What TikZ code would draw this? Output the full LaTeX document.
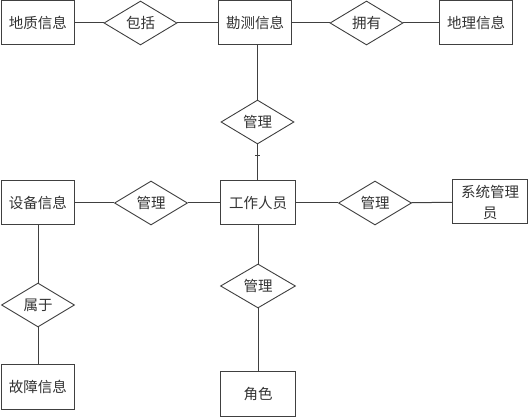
\documentclass[tikz,border=0pt]{standalone}
\usepackage{fontspec}
\newfontfamily\cjk{Noto Sans CJK SC}
\usetikzlibrary{shapes.geometric}
\definecolor{ln}{HTML}{404040}
\definecolor{tx}{HTML}{333333}
\tikzset{
  ent/.style={draw=ln, line width=1pt, minimum width=73pt, minimum height=44pt, inner sep=0pt, font=\cjk\fontsize{14.5}{21}\selectfont, text=tx, align=center},
  rel/.style={draw=ln, line width=0.9pt, diamond, minimum width=73pt, minimum height=44pt, inner sep=0pt, font=\cjk\fontsize{14.5}{21}\selectfont, text=tx},
  conn/.style={draw=ln, line width=1pt}
}
\begin{document}
\begin{tikzpicture}[x=1pt,y=1pt]
\useasboundingbox (0,0) rectangle (530,419);
\fill[white] (0,0) rectangle (530,419);
% top row
\node[ent] (dz) at (38,396) {地质信息};
\node[rel] (bk) at (140.5,396) {包括};
\node[ent] (kc) at (255,396) {勘测信息};
\node[rel] (yy) at (366.5,396) {拥有};
\node[ent] (dl) at (476,396) {地理信息};
% middle
\node[rel] (gla) at (257.5,297) {管理};
\node[ent] (sb) at (38,216) {设备信息};
\node[rel] (glb) at (151,216) {管理};
\node[ent, minimum width=75pt] (gz) at (258,216) {工作人员};
\node[rel] (glc) at (375,216) {管理};
\node[ent, minimum width=75pt] (xt) at (490,217) {系统管理\\员};
% bottom
\node[rel] (sy) at (38,114) {属于};
\node[ent, minimum height=45pt] (gzxx) at (38,32) {故障信息};
\node[rel, minimum width=75pt] (gld) at (258,133) {管理};
\node[ent, minimum width=75pt, minimum height=45pt] (js) at (258,25) {角色};
% connectors
\draw[conn] (dz) -- (bk);
\draw[conn] (bk) -- (kc);
\draw[conn] (kc) -- (yy);
\draw[conn] (yy) -- (dl);
\draw[conn] (kc.south -| gla.north) -- (gla.north);
\draw[conn] (gla.south) -- (gz.north -| gla.south);
\draw[line width=1.8pt, ln] (gla.south) -- ++(0,-11) coordinate (tk);
\draw[line width=0.9pt, ln] ([xshift=-2.5pt]tk) -- ([xshift=2.5pt]tk);
\draw[conn] (sb) -- (glb);
\draw[conn] (glb) -- (gz);
\draw[conn] (gz) -- (glc);
\draw[conn] (glc) -- (xt);
\draw[conn] (sb) -- (sy);
\draw[conn] (sy) -- (gzxx);
\draw[conn] (gz) -- (gld);
\draw[conn] (gld) -- (js);
\end{tikzpicture}
\end{document}
